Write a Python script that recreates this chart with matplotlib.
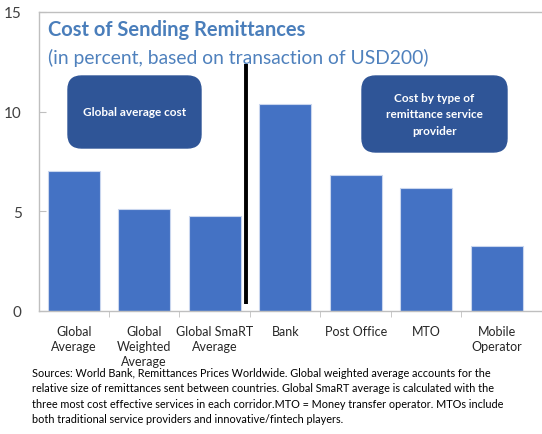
import matplotlib
matplotlib.use("Agg")
import matplotlib.pyplot as plt
from matplotlib.patches import FancyBboxPatch

categories = ["Global\nAverage", "Global\nWeighted\nAverage", "Global SmaRT\nAverage",
              "Bank", "Post Office", "MTO", "Mobile\nOperator"]
values = [7.0, 5.1, 4.78, 10.4, 6.83, 6.17, 3.24]
yticks = [0, 5, 10, 15]

title = "Cost of Sending Remittances"
subtitle = "(in percent, based on transaction of USD200)"
box_left = "Global average cost"
box_right = "Cost by type of\nremittance service\nprovider"
footnote = ("Sources: World Bank, Remittances Prices Worldwide. Global weighted average accounts for the\n"
            "relative size of remittances sent between countries. Global SmaRT average is calculated with the\n"
            "three most cost effective services in each corridor.MTO = Money transfer operator. MTOs include\n"
            "both traditional service providers and innovative/fintech players.")

plt.rcParams['font.family'] = ['Lato', 'DejaVu Sans']

W, H = 542, 435
fig = plt.figure(figsize=(W / 100, H / 100), dpi=100)
ax = fig.add_axes([38.5 / W, 1 - 311.7 / H, 1 - 38.5 / W + 0.01, (311.7 - 13) / H])

x = list(range(len(categories)))
ax.bar(x, values, width=0.74, color="#4472C4", edgecolor="#C9D6EE", linewidth=0.8, zorder=2)

ax.set_ylim(0, 15)
ax.set_xlim(-0.5, 6.72)
ax.set_yticks(yticks)
ax.set_yticklabels([str(v) for v in yticks], fontsize=11, color="#404040")
ax.tick_params(axis="y", direction="in", length=5, color="#BFBFBF", pad=12)

ax.set_xticks(x)
ax.set_xticklabels(categories, fontsize=9, color="#262626", linespacing=1.3)
ax.tick_params(axis="x", length=0, pad=10)
ax.set_xticks([i + 0.5 for i in range(6)], minor=True)
ax.tick_params(axis="x", which="minor", length=4, direction="out", color="#BFBFBF")

for s in ["left", "bottom", "top"]:
    ax.spines[s].set_color("#BFBFBF")
    ax.spines[s].set_linewidth(1.0)
ax.spines["right"].set_visible(False)

# separator line
ax.plot([2.45, 2.45], [0.35, 12.4], color="black", lw=2.8, zorder=3, solid_capstyle="butt")

# title / subtitle
fig.text(48 / W, 1 - 30 / H, title, fontsize=14.5, fontweight="bold", color="#4A7EBB",
         ha="left", va="center")
fig.text(48 / W, 1 - 58 / H, subtitle, fontsize=13.9, color="#4F81BD",
         ha="left", va="center")

# boxes
def rbox(x0, y0, x1, y1, text):
    bx = FancyBboxPatch((x0 / W, 1 - y1 / H), (x1 - x0) / W, (y1 - y0) / H,
                        boxstyle="round,pad=0,rounding_size=0.025",
                        transform=fig.transFigure, facecolor="#2F5597", edgecolor="#2F5597",
                        zorder=5, mutation_aspect=W / H)
    fig.patches.append(bx)
    fig.text((x0 + x1) / 2 / W, 1 - (y0 + y1) / 2 / H, text, fontsize=8.5, fontweight="bold",
             color="white", ha="center", va="center", linespacing=1.62, zorder=6)

rbox(68, 77, 201, 149, box_left)
rbox(362, 77, 507, 153, box_right)

fig.text(32 / W, 1 - 368 / H, footnote, fontsize=7.8, color="black", ha="left", va="top",
         linespacing=1.5)

fig.savefig("out.png", dpi=100)
